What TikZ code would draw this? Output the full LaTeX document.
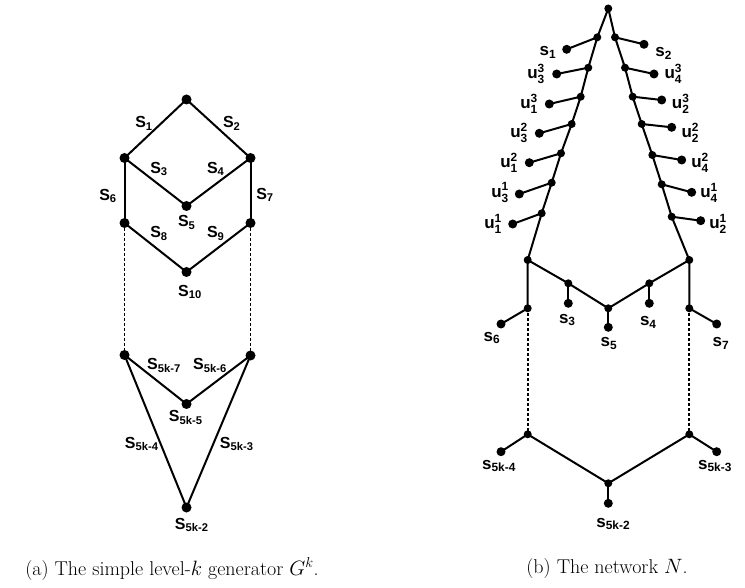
\documentclass[tikz,border=0pt]{standalone}
\usepackage{amsmath}
\usepackage{fontspec}
\newfontfamily\lf{Liberation Sans}
\newcommand\lbS[1]{S$_{\text{#1}}$}
\newcommand\lbs[1]{s$_{\text{#1}}$}
\newcommand\lbu[2]{u$^{\text{#2}}_{\text{#1}}$}
\tikzset{
  dota/.style={circle,fill,inner sep=0pt,minimum size=10pt},
  dotb/.style={circle,fill,inner sep=0pt,minimum size=8pt},
  leafb/.style={circle,fill,inner sep=0pt,minimum size=9pt},
  la/.style={inner sep=0pt,font=\lf\bfseries\fontsize{16}{16}\selectfont},
  lb/.style={inner sep=0pt,font=\lf\bfseries\fontsize{17}{17}\selectfont},
  edg/.style={line width=2pt},
  dotline/.style={line width=1.9pt,dash pattern=on 3pt off 2pt},
  captext/.style={inner sep=0pt,font=\fontsize{20}{22}\selectfont}
}
\begin{document}
\begin{tikzpicture}[x=1pt,y=-1pt]
\useasboundingbox (0,0) rectangle (745,588);
% ---------- (a) ----------
\node[dota] (a1) at (186.5,99.5) {};
\node[dota] (a2) at (124.5,158) {};
\node[dota] (a3) at (250.5,158) {};
\node[dota] (a4) at (186.5,206) {};
\node[dota] (a5) at (124.5,223) {};
\node[dota] (a6) at (250.5,223) {};
\node[dota] (a7) at (186.5,272) {};
\node[dota] (a8) at (124.5,355) {};
\node[dota] (a9) at (250.5,355.5) {};
\node[dota] (a10) at (186.5,404) {};
\node[dota] (a11) at (186.5,507.5) {};
\draw[edg] (a2.center) -- (a1.center) -- (a3.center);
\draw[edg] (a2.center) -- (a4.center) -- (a3.center);
\draw[edg] (a2.center) -- (a5.center);
\draw[edg] (a3.center) -- (a6.center);
\draw[edg] (a5.center) -- (a7.center) -- (a6.center);
\draw[dotline] (a5.center) -- (a8.center);
\draw[dotline] (a6.center) -- (a9.center);
\draw[edg] (a8.center) -- (a10.center) -- (a9.center);
\draw[edg] (a8.center) -- (a11.center) -- (a9.center);
\node[la] (tS1) at (144,123.5) {\lbS{1}};
\node[la] (tS2) at (231.7,123.5) {\lbS{2}};
\node[la] (tS3) at (159,169) {\lbS{3}};
\node[la] (tS4) at (215.7,169) {\lbS{4}};
\node[la] (tS5) at (186.7,222.5) {\lbS{5}};
\node[la] (tS6) at (108,196) {\lbS{6}};
\node[la] (tS7) at (265,195) {\lbS{7}};
\node[la] (tS8) at (159,233.3) {\lbS{8}};
\node[la] (tS9) at (215.7,233.3) {\lbS{9}};
\node[la] (tS10) at (190,292) {\lbS{10}};
\node[la] (tS57) at (164,365.7) {\lbS{5k-7}};
\node[la] (tS56) at (210,365.7) {\lbS{5k-6}};
\node[la] (tS55) at (185.7,417.3) {\lbS{5k-5}};
\node[la] (tS54) at (141.7,444) {\lbS{5k-4}};
\node[la] (tS53) at (236.7,444) {\lbS{5k-3}};
\node[la] (tS52) at (191.7,525) {\lbS{5k-2}};
% ---------- (b) ----------
\node[dotb] (b0) at (608.3,8.5) {};
\node[dotb] (L1) at (597.3,37.3) {};
\node[dotb] (L2) at (588.3,67.7) {};
\node[dotb] (L3) at (580.7,96.7) {};
\node[dotb] (L4) at (571.7,124) {};
\node[dotb] (L5) at (561,153.3) {};
\node[dotb] (L6) at (551.7,182.7) {};
\node[dotb] (L7) at (541.7,213.3) {};
\node[dotb] (Lb) at (527.7,260) {};
\node[dotb] (R1) at (615,37.3) {};
\node[dotb] (R2) at (625,67.7) {};
\node[dotb] (R3) at (632.7,96.7) {};
\node[dotb] (R4) at (641.7,124) {};
\node[dotb] (R5) at (652.3,155) {};
\node[dotb] (R6) at (661.7,184.3) {};
\node[dotb] (R7) at (671.7,216.7) {};
\node[dotb] (Rb) at (689.3,260) {};
\node[leafb] (l1) at (566.7,49.3) {};
\node[leafb] (l2) at (556.7,74) {};
\node[leafb] (l3) at (549.3,104) {};
\node[leafb] (l4) at (539.3,133.3) {};
\node[leafb] (l5) at (529.3,162.7) {};
\node[leafb] (l6) at (519.3,194) {};
\node[leafb] (l7) at (512.7,224) {};
\node[leafb] (r1) at (644,44.3) {};
\node[leafb] (r2) at (654,74) {};
\node[leafb] (r3) at (661.7,100) {};
\node[leafb] (r4) at (671.7,127.3) {};
\node[leafb] (r5) at (681.7,160) {};
\node[leafb] (r6) at (691.7,192.3) {};
\node[leafb] (r7) at (700.7,220.7) {};
\draw[edg] (Lb.center) -- (L7.center) -- (L6.center) -- (L5.center) -- (L4.center) -- (L3.center) -- (L2.center) -- (L1.center) -- (b0.center)
  -- (R1.center) -- (R2.center) -- (R3.center) -- (R4.center) -- (R5.center) -- (R6.center) -- (R7.center) -- (Rb.center);
\foreach \i in {1,...,7} {
  \draw[edg] (L\i.center) -- (l\i.center);
  \draw[edg] (R\i.center) -- (r\i.center);
}
\node[lb] (ts1) at (548,52.3) {\lbs{1}};
\node[lb] (tu33) at (536,74) {\lbu{3}{3}};
\node[lb] (tu13) at (529,104) {\lbu{1}{3}};
\node[lb] (tu32) at (519,133) {\lbu{3}{2}};
\node[lb] (tu12) at (509,162.5) {\lbu{1}{2}};
\node[lb] (tu31) at (500,192.5) {\lbu{3}{1}};
\node[lb] (tu11) at (493,223.5) {\lbu{1}{1}};
\node[lb] (ts2) at (663.7,53.3) {\lbs{2}};
\node[lb] (tu43) at (673.3,74) {\lbu{4}{3}};
\node[lb] (tu23) at (680.7,103.5) {\lbu{2}{3}};
\node[lb] (tu22) at (690.3,132.5) {\lbu{2}{2}};
\node[lb] (tu42) at (700,162.5) {\lbu{4}{2}};
\node[lb] (tu41) at (709,192.5) {\lbu{4}{1}};
\node[lb] (tu21) at (718,224) {\lbu{2}{1}};
% lower part of (b)
\node[dotb] (j3) at (568.3,283.3) {};
\node[dotb] (m5) at (608.3,308.3) {};
\node[dotb] (j4) at (649.3,283.3) {};
\node[leafb] (k3) at (568.3,303.3) {};
\node[leafb] (k5) at (608.3,327.3) {};
\node[leafb] (k4) at (649.3,303.3) {};
\node[dotb] (Ll) at (527.7,308.3) {};
\node[dotb] (Rl) at (689.3,308.3) {};
\node[leafb] (k6) at (501,324) {};
\node[leafb] (k7) at (716.7,324) {};
\draw[edg] (Lb.center) -- (j3.center) -- (m5.center) -- (j4.center) -- (Rb.center);
\draw[edg] (j3.center) -- (k3.center);
\draw[edg] (m5.center) -- (k5.center);
\draw[edg] (j4.center) -- (k4.center);
\draw[edg] (Lb.center) -- (Ll.center) -- (k6.center);
\draw[edg] (Rb.center) -- (Rl.center) -- (k7.center);
\node[lb] (ts3) at (567.3,320) {\lbs{3}};
\node[lb] (ts4) at (648.3,322.3) {\lbs{4}};
\node[lb] (ts5) at (609,343.7) {\lbs{5}};
\node[lb] (ts6) at (492,338) {\lbs{6}};
\node[lb] (ts7) at (721,343.3) {\lbs{7}};
\node[dotb] (Lt) at (527.7,434.3) {};
\node[dotb] (Rt) at (689.3,434.3) {};
\node[dotb] (m2) at (608.3,483.3) {};
\node[leafb] (k54) at (501,451.7) {};
\node[leafb] (k53) at (716.7,451.7) {};
\node[leafb] (k52) at (608.3,503.3) {};
\draw[dotline] (Ll.center) -- (Lt.center);
\draw[dotline] (Rl.center) -- (Rt.center);
\draw[edg] (k54.center) -- (Lt.center) -- (m2.center) -- (Rt.center) -- (k53.center);
\draw[edg] (m2.center) -- (k52.center);
\node[lb] (ts54) at (499,466) {\lbs{5k-4}};
\node[lb] (ts53) at (715,466) {\lbs{5k-3}};
\node[lb] (ts52) at (613.3,524) {\lbs{5k-2}};
% captions
\node[captext] (capa) at (172,569) {(a) The simple level-$k$ generator $G^k$.};
\node[captext] (capb) at (607,569) {(b) The network $N$.};
\end{tikzpicture}
\end{document}
